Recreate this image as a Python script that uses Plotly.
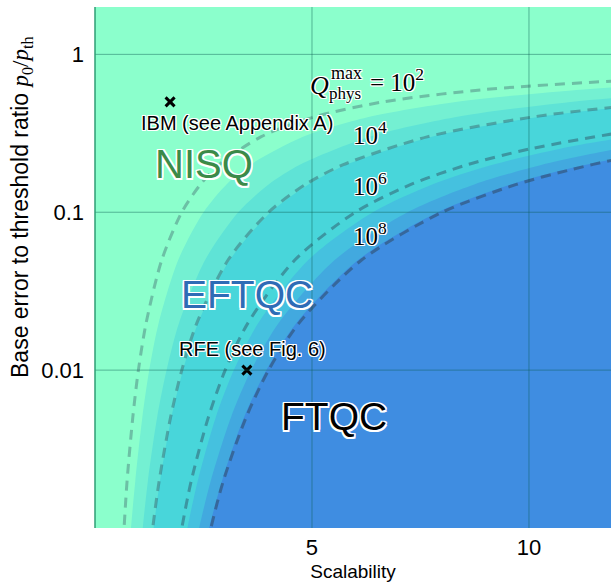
import plotly.graph_objects as go

# ---------------- data ----------------
X_TICKS = [5, 10]
X_TICK_TEXT = ["5", "10"]
Y_TICKS = [0.01, 0.1, 1]
Y_TICK_TEXT = ["0.01", "0.1", "1"]

# dashed contour lines  Q_phys^max = 10^2, 10^4, 10^6, 10^8  (scalability, p0/pth)
Q_LEVEL_TEXT = ["2", "4", "6", "8"]
Q2_S = [0.61, 0.67, 0.74, 0.87, 1.00, 1.18, 1.54, 2.00, 2.43, 2.86, 3.82, 5.03, 6.64, 9.01, 12.9, 15.0]
Q2_R = [0.0005, 0.001, 0.002, 0.005, 0.01, 0.02, 0.05, 0.1, 0.15, 0.2, 0.3, 0.4, 0.5, 0.6, 0.7, 0.736]
Q4_S = [1.21, 1.33, 1.48, 1.74, 2.00, 2.35, 3.07, 4.00, 4.85, 5.72, 7.65, 10.05, 12.0, 13.0, 15.0]
Q4_R = [0.0005, 0.001, 0.002, 0.005, 0.01, 0.02, 0.05, 0.1, 0.15, 0.2, 0.3, 0.4, 0.464, 0.492, 0.541]
Q6_S = [1.82, 2.00, 2.22, 2.61, 3.00, 3.53, 4.61, 6.00, 7.28, 8.58, 10.0, 12.0, 13.0, 15.0]
Q6_R = [0.0005, 0.001, 0.002, 0.005, 0.01, 0.02, 0.05, 0.1, 0.15, 0.2, 0.251, 0.316, 0.345, 0.398]
Q8_S = [2.42, 2.67, 2.96, 3.48, 4.00, 4.71, 6.15, 8.00, 9.71, 11.0, 12.0, 13.0, 15.0]
Q8_R = [0.0005, 0.001, 0.002, 0.005, 0.01, 0.02, 0.05, 0.1, 0.15, 0.187, 0.216, 0.243, 0.293]

# boundaries of the coloured bands (scalability, p0/pth)
B1_S = [0.76, 0.83, 0.93, 1.09, 1.25, 1.47, 1.92, 2.50, 3.03, 3.58, 4.78, 6.28, 8.31, 11.26, 13.0, 15.0]
B1_R = [0.0005, 0.001, 0.002, 0.005, 0.01, 0.02, 0.05, 0.1, 0.15, 0.2, 0.3, 0.4, 0.5, 0.6, 0.642, 0.681]
B2_S = [1.00, 1.10, 1.22, 1.43, 1.65, 1.94, 2.54, 3.30, 4.00, 4.72, 6.31, 8.29, 10.96, 13.0, 15.0]
B2_R = [0.0005, 0.001, 0.002, 0.005, 0.01, 0.02, 0.05, 0.1, 0.15, 0.2, 0.3, 0.4, 0.5, 0.557, 0.603]
B3_S = [1.23, 1.35, 1.50, 1.76, 2.03, 2.38, 3.11, 4.05, 4.92, 5.79, 7.74, 10.18, 13.0, 15.0]
B3_R = [0.0005, 0.001, 0.002, 0.005, 0.01, 0.02, 0.05, 0.1, 0.15, 0.2, 0.3, 0.4, 0.488, 0.537]
B4_S = [1.94, 2.13, 2.37, 2.78, 3.20, 3.77, 4.92, 6.40, 7.77, 9.16, 11.0, 13.0, 15.0]
B4_R = [0.0005, 0.001, 0.002, 0.005, 0.01, 0.02, 0.05, 0.1, 0.15, 0.2, 0.262, 0.322, 0.374]
B5_S = [2.18, 2.40, 2.67, 3.13, 3.60, 4.24, 5.53, 7.20, 8.74, 10.30, 12.0, 13.0, 15.0]
B5_R = [0.0005, 0.001, 0.002, 0.005, 0.01, 0.02, 0.05, 0.1, 0.15, 0.2, 0.251, 0.279, 0.331]
B6_S = [2.39, 2.63, 2.93, 3.43, 3.95, 4.65, 6.07, 7.90, 9.59, 11.0, 13.0, 15.0]
B6_R = [0.0005, 0.001, 0.002, 0.005, 0.01, 0.02, 0.05, 0.1, 0.15, 0.191, 0.247, 0.297]

BG_COLOR = "#8BFFCC"
BAND_COLORS = ["#74F0D2", "#5FE3D6", "#48D6DA", "#45C1DF", "#42A9DF", "#3F8DE1"]

# marked devices
DEV_S = [1.73, 3.5]
DEV_R = [0.5, 0.01]

# ---------------- layout geometry ----------------
W, H = 611, 582
ML, MR, MT, MB = 95, 0, 7, 54
X_RANGE = [0, 11.89]
Y_RANGE = [-3.0, 0.3]
PW, PH = W - ML - MR, H - MT - MB


def px_x(px):
    return X_RANGE[0] + (px - ML) / PW * (X_RANGE[1] - X_RANGE[0])


def px_y(py):
    return Y_RANGE[1] - (py - MT) / PH * (Y_RANGE[1] - Y_RANGE[0])


def outline(w=1):
    offs = [(-w, -w), (w, -w), (-w, w), (w, w), (0, w), (0, -w), (w, 0), (-w, 0)]
    return ", ".join(f"{a}px {b}px 0 #fff" for a, b in offs)


fig = go.Figure()

bands = [(B1_S, B1_R), (B2_S, B2_R), (B3_S, B3_R), (B4_S, B4_R), (B5_S, B5_R), (B6_S, B6_R)]
for (bs, br), col in zip(bands, BAND_COLORS):
    xs = list(bs) + [16.0, 16.0, bs[0]]
    ys = list(br) + [br[-1], 0.0002, 0.0002]
    fig.add_trace(go.Scatter(x=xs, y=ys, mode="lines", fill="toself", fillcolor=col,
                             line=dict(width=0, shape="spline", smoothing=0.8),
                             hoverinfo="skip", showlegend=False))

dashed = [(Q2_S, Q2_R, 0.33), (Q4_S, Q4_R, 0.38), (Q6_S, Q6_R, 0.43), (Q8_S, Q8_R, 0.5)]
for qs, qr, a in dashed:
    fig.add_trace(go.Scatter(x=qs, y=qr, mode="lines",
                             line=dict(color=f"rgba(45,65,85,{a})", width=3, dash="10px,7px",
                                       shape="spline", smoothing=0.8),
                             hoverinfo="skip", showlegend=False))

fig.add_trace(go.Scatter(x=DEV_S, y=DEV_R, mode="markers",
                         marker=dict(symbol="x-thin", size=9, line=dict(width=3, color="black")),
                         hoverinfo="skip", showlegend=False))

# grid lines above the filled areas
shapes = []
for xv in X_TICKS:
    shapes.append(dict(type="line", xref="x", yref="paper", x0=xv, x1=xv, y0=0, y1=1,
                       line=dict(color="rgba(10,90,80,0.45)", width=1), layer="above"))
for yv in Y_TICKS:
    shapes.append(dict(type="line", xref="paper", yref="y", x0=0, x1=1, y0=yv, y1=yv,
                       line=dict(color="rgba(10,90,80,0.45)", width=1), layer="above"))
shapes.append(dict(type="line", xref="paper", yref="paper", x0=0, x1=0, y0=0, y1=1,
                   line=dict(color="#2E9E74", width=1.5), layer="above"))

SANS = "Liberation Sans, Arial, sans-serif"
SERIF = "Liberation Serif, Times New Roman, serif"
ann = []


def add_text(text, px, py, size, color="black", family=SANS, xanchor="center", ow=1):
    ann.append(dict(text=text, x=px_x(px), y=px_y(py), xref="x", yref="y", showarrow=False,
                    xanchor=xanchor, yanchor="middle",
                    font=dict(family=family, size=size, color=color, shadow=outline(ow))))


add_text("IBM (see Appendix A)", 237, 123, 20)
add_text("NISQ", 204, 164, 40, color="#3B8A48", ow=1.5)
add_text("EFTQC", 247, 294, 39, color="#2E6CB6", ow=1.5)
add_text("RFE (see Fig. 6)", 252, 349, 20)
add_text("FTQC", 334, 416, 39, ow=1.5)

add_text("<i>Q</i>", 319, 85, 26, family=SERIF)
add_text("max", 346, 73, 18, family=SERIF)
add_text("phys", 345, 93, 17, family=SERIF)
add_text("= 10<sup>" + Q_LEVEL_TEXT[0] + "</sup>", 368, 80, 25, family=SERIF, xanchor="left")
for lvl, py in zip(Q_LEVEL_TEXT[1:], [133, 184, 234]):
    add_text("10<sup>" + lvl + "</sup>", 351, py, 25, family=SERIF, xanchor="left")

# y-axis title (rotated), positioned from pixels to paper coordinates
ann.append(dict(text='Base error to threshold ratio <span style="font-family:Liberation Serif">'
                     '<i>p</i><sub>0</sub>/<i>p</i><sub>th</sub></span>',
                x=(21 - ML) / PW, y=1 - (208 - MT) / PH, xref="paper", yref="paper",
                xanchor="center", yanchor="middle", showarrow=False, textangle=-90,
                font=dict(family=SANS, size=23, color="black")))

fig.update_layout(
    width=W, height=H,
    margin=dict(l=ML, r=MR, t=MT, b=MB),
    paper_bgcolor="white", plot_bgcolor=BG_COLOR,
    shapes=shapes, annotations=ann,
    xaxis=dict(range=X_RANGE, tickvals=X_TICKS, ticktext=X_TICK_TEXT, showgrid=False,
               zeroline=False, showline=False, ticks="", ticklabelstandoff=4,
               tickfont=dict(family=SANS, size=22, color="black"),
               title=dict(text="Scalability", font=dict(family=SANS, size=19, color="black"),
                          standoff=8)),
    yaxis=dict(type="log", range=Y_RANGE, tickvals=Y_TICKS, ticktext=Y_TICK_TEXT,
               showgrid=False, zeroline=False, showline=False, ticks="", ticklabelstandoff=10,
               tickfont=dict(family=SANS, size=22, color="black")),
)

fig.write_html("out.html")
